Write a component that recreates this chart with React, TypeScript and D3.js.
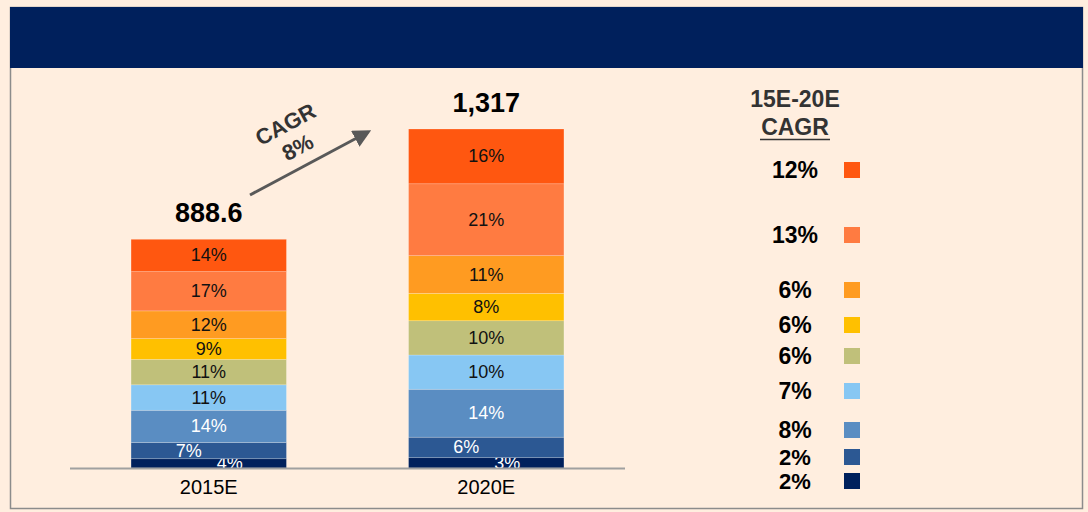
import React from "react";
import * as d3 from "d3";

const categories = ["2015E", "2020E"];
const totals = [888.6, 1317];
const totalLabels = ["888.6", "1,317"];
const segmentNames = ["s1", "s2", "s3", "s4", "s5", "s6", "s7", "s8", "s9"]; // bottom -> top
const shares2015 = [4, 7, 14, 11, 11, 9, 12, 17, 14];
const shares2020 = [3, 6, 14, 10, 10, 8, 11, 21, 16];
const colors = ["#00205C", "#2C5893", "#5A8DC2", "#87C7F3", "#C0C07A", "#FFC000", "#FF9B21", "#FF7B41", "#FF5710"];
const lightText = [true, true, true, false, false, false, false, false, false];
const cagrValues = ["2%", "2%", "8%", "7%", "6%", "6%", "6%", "13%", "12%"]; // bottom -> top
const legendY = [481, 457, 430, 391, 356, 325, 290, 235, 170];
const overallCagr = "8%";

export default function App() {
  const W = 1088, H = 512;
  const font = "Liberation Sans, Arial, sans-serif";
  const x = d3.scaleBand().domain(categories).range([70, 625]).paddingInner(0.44).paddingOuter(0.22);
  const y = d3.scaleLinear().domain([0, 1317]).range([468, 129]);
  const allShares = [shares2015, shares2020];

  return (
    <svg width={W} height={H} style={{ position: "absolute", left: 0, top: 0 }}>
      <rect x={0} y={0} width={W} height={H} fill="#FFEEDF" />
      <rect x={10.5} y={7.5} width={1072} height={501} fill="#FFEEDF" stroke="#8C8C8C" strokeWidth={1.5} />
      <rect x={10} y={7} width={1073} height={61} fill="#00205C" />
      {categories.map((c, i) => {
        const sh = allShares[i];
        const sum = d3.sum(sh);
        let cum = 0;
        const bx = x(c)!;
        const bw = x.bandwidth();
        return (
          <g key={c}>
            {sh.map((s, j) => {
              const v0 = cum;
              const v = (s / sum) * totals[i];
              cum += v;
              const y0 = y(v0), y1 = y(cum);
              let tx = bx + bw / 2;
              let ty = (y0 + y1) / 2 + 6;
              if (j === 0) { tx = bx + bw / 2 + 21; ty = y0 + 1; }
              if (j === 1) { tx = bx + bw / 2 - 20; ty = (y0 + y1) / 2 + 6; }
              return (
                <g key={j}>
                  <rect x={bx} y={y1} width={bw} height={y0 - y1} fill={colors[j]} stroke="#FFFFFF" strokeOpacity={0.35} strokeWidth={0.6} />
                  <text x={tx} y={ty} textAnchor="middle" fontFamily={font} fontSize={18} fill={lightText[j] ? "#FFFFFF" : "#111111"}>
                    {s}%
                  </text>
                </g>
              );
            })}
            <text x={bx + bw / 2} y={y(totals[i]) - 17} textAnchor="middle" fontFamily={font} fontSize={27} fontWeight="bold" fill="#000">
              {totalLabels[i]}
            </text>
            <text x={bx + bw / 2} y={494} textAnchor="middle" fontFamily={font} fontSize={20} fill="#000">
              {c}
            </text>
          </g>
        );
      })}
      <line x1={70} x2={625} y1={468.5} y2={468.5} stroke="#A0A0A0" strokeWidth={2} />
      {/* CAGR arrow */}
      <defs>
        <marker id="ah" viewBox="0 0 10 10" refX={8} refY={5} markerWidth={6} markerHeight={6} orient="auto">
          <path d="M0,0 L10,5 L0,10 z" fill="#595959" />
        </marker>
      </defs>
      <line x1={250} y1={195} x2={368} y2={132} stroke="#595959" strokeWidth={3} markerEnd="url(#ah)" />
      <g transform="translate(289,131) rotate(-28)">
        <text x={0} y={0} textAnchor="middle" fontFamily={font} fontSize={22} fontWeight="bold" fill="#333">CAGR</text>
        <text x={0} y={26} textAnchor="middle" fontFamily={font} fontSize={22} fontWeight="bold" fill="#333">{overallCagr}</text>
      </g>
      {/* Legend */}
      <text x={795} y={107} textAnchor="middle" fontFamily={font} fontSize={23} fontWeight="bold" fill="#333">15E-20E</text>
      <text x={795} y={135} textAnchor="middle" fontFamily={font} fontSize={23} fontWeight="bold" fill="#333">CAGR</text>
      <line x1={760} x2={830} y1={139.5} y2={139.5} stroke="#333" strokeWidth={1.5} />
      {segmentNames.map((n, j) => (
        <g key={n}>
          <rect x={844} y={legendY[j] - 8} width={16} height={16} fill={colors[j]} />
          <text x={795} y={legendY[j] + 8} textAnchor="middle" fontFamily={font} fontSize={j < 2 ? 22 : 23} fontWeight="bold" fill="#000">
            {cagrValues[j]}
          </text>
        </g>
      ))}
    </svg>
  );
}
